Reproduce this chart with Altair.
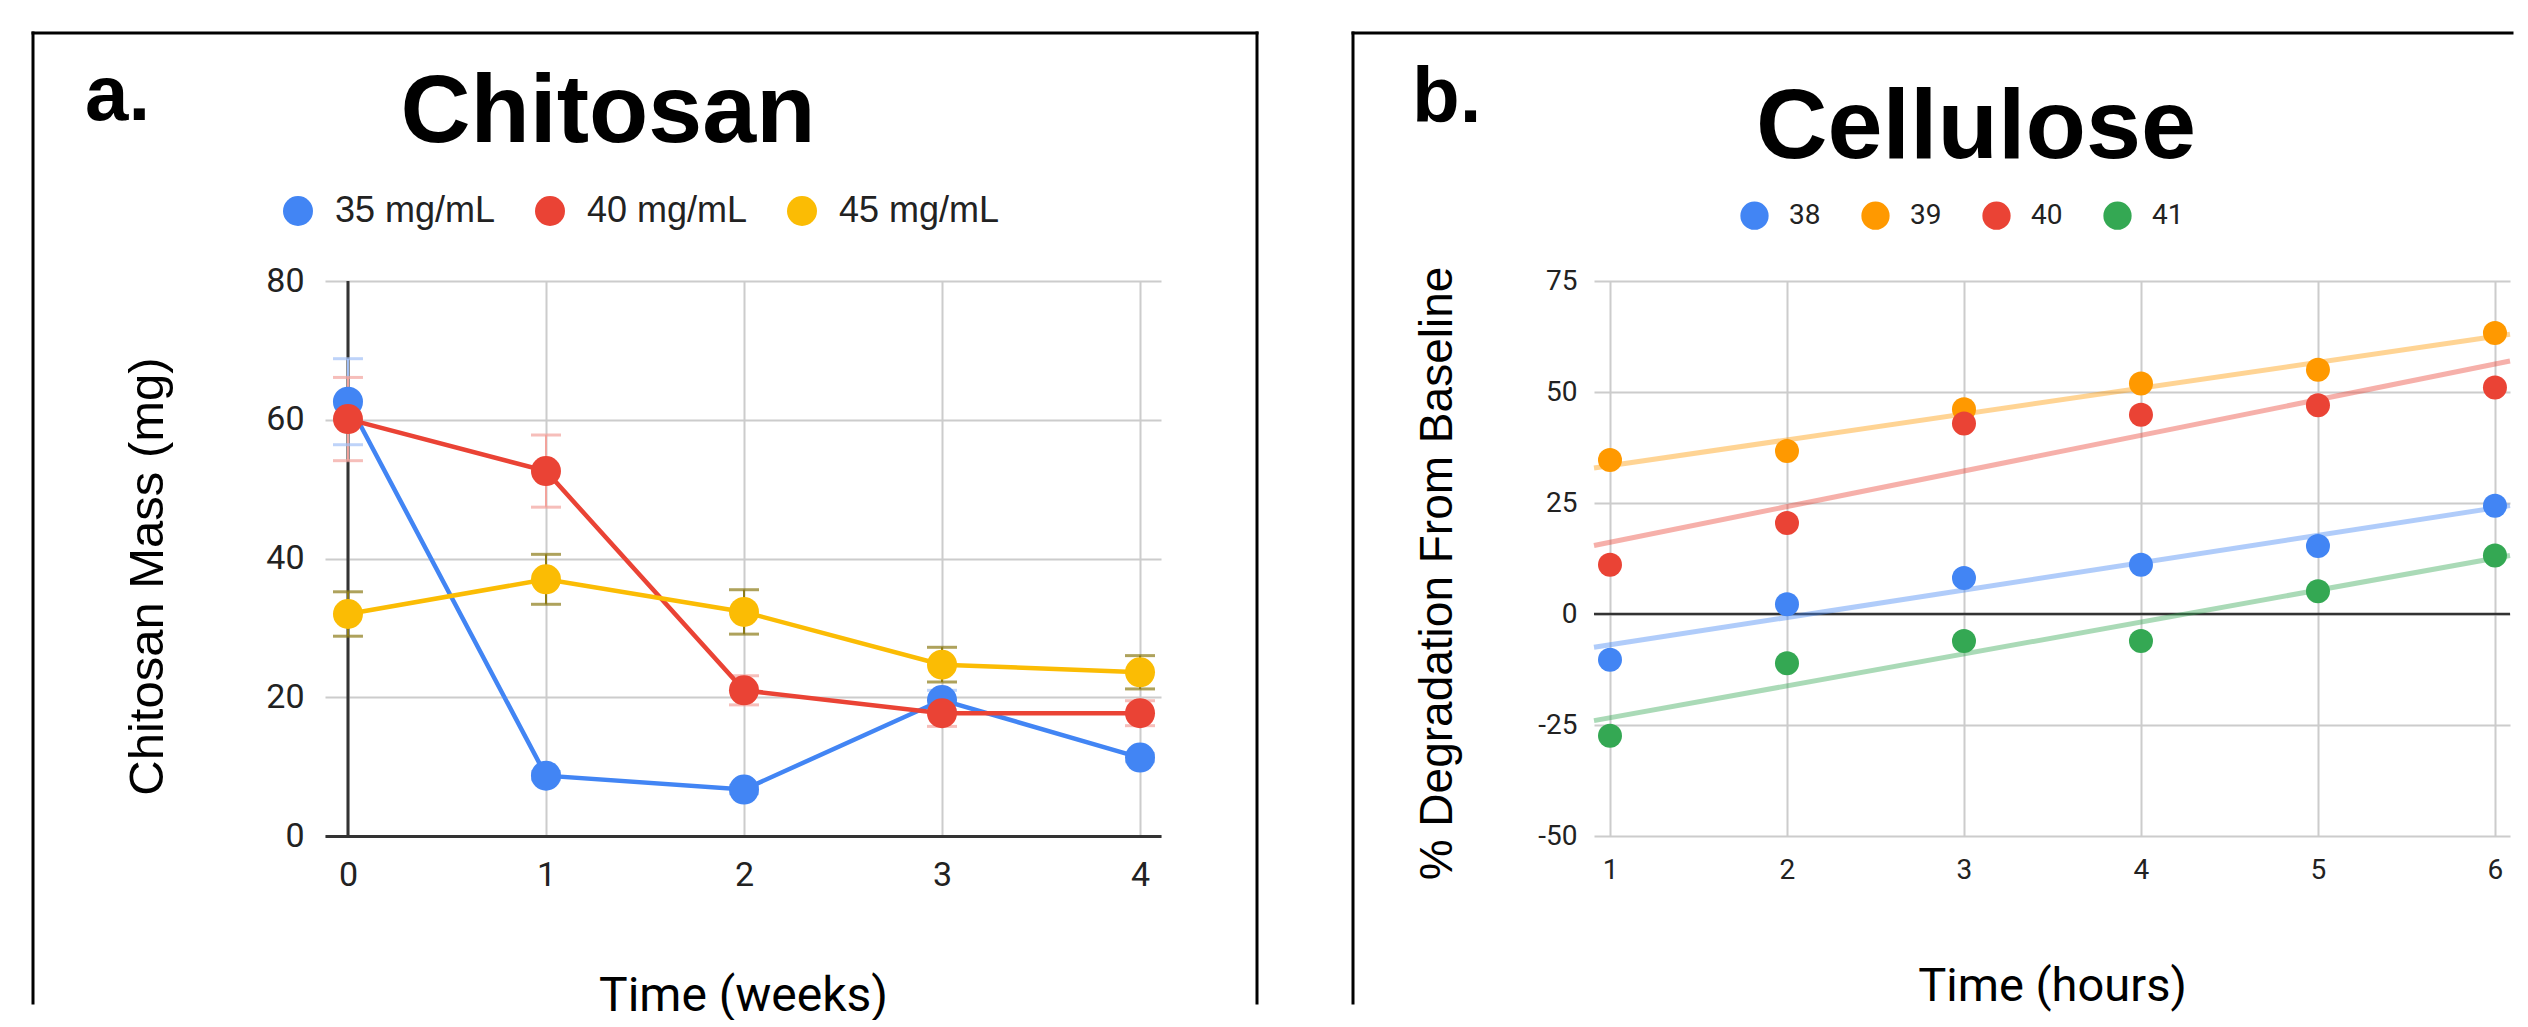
import altair as alt
import pandas as pd

# ---------------- data: panel a (Chitosan) ----------------
weeks = [0, 1, 2, 3, 4]
chitosan_series = ["35 mg/mL", "40 mg/mL", "45 mg/mL"]
mass_35 = [62.6, 8.7, 6.7, 19.6, 11.3]
mass_40 = [60.1, 52.6, 21.0, 17.7, 17.7]
mass_45 = [32.0, 37.0, 32.3, 24.7, 23.6]
err_35 = [6.2, 0.6, 0.6, 1.4, 0.6]
err_40 = [6.0, 5.2, 2.1, 1.9, 1.8]
err_45 = [3.2, 3.6, 3.2, 2.5, 2.4]

# ---------------- data: panel b (Cellulose) ----------------
hours = [1, 2, 3, 4, 5, 6]
cellulose_series = ["38", "39", "40", "41"]
deg_38 = [-10.3, 2.2, 8.1, 11.1, 15.3, 24.4]
deg_39 = [34.7, 36.7, 46.1, 51.9, 55.0, 63.3]
deg_40 = [11.1, 20.5, 42.9, 44.9, 47.0, 51.0]
deg_41 = [-27.4, -11.1, -6.1, -6.1, 5.1, 13.2]

colors_a = ["#4285F4", "#EA4335", "#FBBC04"]
err_colors_a = ["#A3C1F7", "#F2A39C", "#8C7B17"]
colors_b = ["#4285F4", "#FF9900", "#EA4335", "#34A853"]

rows_a = []
for s, ms, es in zip(chitosan_series, [mass_35, mass_40, mass_45], [err_35, err_40, err_45]):
    for w, m, e in zip(weeks, ms, es):
        rows_a.append({"week": w, "series": s, "mass": m, "lo": m - e, "hi": m + e})
df_a = pd.DataFrame(rows_a)

rows_b = []
for s, ds in zip(cellulose_series, [deg_38, deg_39, deg_40, deg_41]):
    for h, d in zip(hours, ds):
        rows_b.append({"hour": h, "series": s, "deg": d})
df_b = pd.DataFrame(rows_b)

one = alt.Data(values=[{"k": 1}])

GRID = "#cccccc"
LBL = "#222222"

# ---------------- panel a ----------------
A_W, A_H = 836, 555
xs_a = alt.Scale(domain=[-0.116, 4.106], nice=False, zero=False)
ys_a = alt.Scale(domain=[0, 80], nice=False)
ax_a_x = alt.Axis(values=weeks, format="d", title="Time (weeks)", grid=True, gridColor=GRID, gridWidth=2,
                  domain=True, domainColor="#333333", domainWidth=3, ticks=False,
                  labelFont="Roboto", labelFontSize=34, labelColor=LBL, labelPadding=22,
                  labelFlush=False, labelOverlap=False,
                  titleFont="Roboto", titleFontSize=48, titleFontWeight="normal", titleColor="#000000",
                  titleX=418, titleY=160, titleBaseline="middle", titleAlign="center")
ax_a_y = alt.Axis(values=[0, 20, 40, 60, 80], title="Chitosan Mass (mg)", grid=True, gridColor=GRID,
                  gridWidth=2, domain=False, ticks=False,
                  labelFont="Roboto", labelFontSize=34, labelColor=LBL, labelPadding=21,
                  labelFlush=False, labelOverlap=False,
                  titleFont="Liberation Sans", titleFontSize=49, titleFontWeight="normal",
                  titleColor="#000000", titleX=-178, titleY=295, titleBaseline="middle",
                  titleAlign="center", titleAngle=270)

def xa():
    return alt.X("week:Q", scale=xs_a, axis=ax_a_x)

def ya(f):
    return alt.Y(f"{f}:Q", scale=ys_a, axis=ax_a_y)

brd = dict(color="#000000", strokeWidth=3, strokeCap="square")
a_left = alt.Chart(one).mark_rule(**brd).encode(x=alt.value(-292), y=alt.value(-248), y2=alt.value(722))
a_top = alt.Chart(one).mark_rule(**brd).encode(x=alt.value(-292), x2=alt.value(932), y=alt.value(-248))
a_right = alt.Chart(one).mark_rule(**brd).encode(x=alt.value(932), y=alt.value(-248), y2=alt.value(722))

a_lab = alt.Chart(one).mark_text(text="a.", font="Liberation Sans", fontSize=78, fontWeight="bold",
                                 align="left", baseline="alphabetic", color="#000000").encode(
    x=alt.value(-240), y=alt.value(-161))
a_title = alt.Chart(one).mark_text(text="Chitosan", font="Liberation Sans", fontSize=97, fontWeight="bold",
                                   align="center", baseline="alphabetic", color="#000000").encode(
    x=alt.value(283), y=alt.value(-139))

a_zero = alt.Chart(one).mark_rule(color="#333333", strokeWidth=3).encode(x=alt.datum(0))

err_stroke = alt.Stroke("series:N", scale=alt.Scale(domain=chitosan_series, range=err_colors_a), legend=None)
err_fill = alt.Fill("series:N", scale=alt.Scale(domain=chitosan_series, range=err_colors_a), legend=None)

a_err = alt.Chart(df_a).mark_rule(strokeWidth=2).encode(x=xa(), y=ya("lo"), y2="hi:Q", stroke=err_stroke)
a_cap_lo = alt.Chart(df_a).mark_tick(orient="horizontal", size=30, thickness=3).encode(
    x=xa(), y=ya("lo"), fill=err_fill)
a_cap_hi = alt.Chart(df_a).mark_tick(orient="horizontal", size=30, thickness=3).encode(
    x=xa(), y=ya("hi"), fill=err_fill)

a_lines = alt.Chart(df_a).mark_line(strokeWidth=4.5).encode(
    x=xa(), y=ya("mass"),
    stroke=alt.Stroke("series:N", scale=alt.Scale(domain=chitosan_series, range=colors_a), legend=None))
a_pts = alt.Chart(df_a).mark_circle(size=900, opacity=1).encode(
    x=xa(), y=ya("mass"),
    color=alt.Color("series:N", scale=alt.Scale(domain=chitosan_series, range=colors_a),
                    legend=alt.Legend(orient="none", legendX=-45, legendY=-88, direction="horizontal",
                                      title=None, symbolType="circle", symbolSize=900,
                                      symbolStrokeWidth=0, symbolOpacity=1, labelLimit=0,
                                      labelFont="Liberation Sans", labelFontSize=36, labelColor=LBL,
                                      labelOffset=19, columnPadding=36)))

panel_a = alt.layer(a_left, a_top, a_right, a_lab, a_title, a_zero, a_err, a_cap_lo, a_cap_hi,
                    a_lines, a_pts).resolve_scale(stroke="independent", fill="independent").properties(
    width=A_W, height=A_H)

# ---------------- panel b ----------------
B_W, B_H = 916, 555
xs_b = alt.Scale(domain=[0.9096, 6.085], nice=False, zero=False)
ys_b = alt.Scale(domain=[-50, 75], nice=False)
ax_b_x = alt.Axis(values=hours, format="d", title="Time (hours)", grid=True, gridColor=GRID, gridWidth=2,
                  domain=False, ticks=False,
                  labelFont="Roboto", labelFontSize=28, labelColor=LBL, labelPadding=20,
                  labelFlush=False, labelOverlap=False,
                  titleFont="Roboto", titleFontSize=47, titleFontWeight="normal", titleColor="#000000",
                  titleX=458, titleY=150, titleBaseline="middle", titleAlign="center")
ax_b_y = alt.Axis(values=[-50, -25, 0, 25, 50, 75], title="% Degradation From Baseline", grid=True,
                  gridColor=GRID, gridWidth=2, domain=False, ticks=False,
                  labelExpr="'' + datum.value",
                  labelFont="Roboto", labelFontSize=28, labelColor=LBL, labelPadding=17,
                  labelFlush=False, labelOverlap=False,
                  titleFont="Liberation Sans", titleFontSize=46, titleFontWeight="normal",
                  titleColor="#000000", titleX=-157, titleY=292, titleBaseline="middle",
                  titleAlign="center", titleAngle=270)

xb = alt.X("hour:Q", scale=xs_b, axis=ax_b_x)
yb = alt.Y("deg:Q", scale=ys_b, axis=ax_b_y)

b_left = alt.Chart(one).mark_rule(**brd).encode(x=alt.value(-241), y=alt.value(-248), y2=alt.value(722))
b_top = alt.Chart(one).mark_rule(**brd).encode(x=alt.value(-241), x2=alt.value(918), y=alt.value(-248))

b_lab = alt.Chart(one).mark_text(text="b.", font="Liberation Sans", fontSize=78, fontWeight="bold",
                                 align="left", baseline="alphabetic", color="#000000").encode(
    x=alt.value(-182), y=alt.value(-159))
b_title = alt.Chart(one).mark_text(text="Cellulose", font="Liberation Sans", fontSize=99, fontWeight="bold",
                                   align="center", baseline="alphabetic", color="#000000").encode(
    x=alt.value(382), y=alt.value(-123))

b_zero = alt.Chart(one).mark_rule(color="#333333", strokeWidth=2.5).encode(y=alt.datum(0))

b_trend = alt.Chart(df_b).transform_regression(
    "hour", "deg", groupby=["series"], extent=[0.9096, 6.085]
).mark_line(strokeWidth=5, opacity=0.42).encode(
    x=xb, y=yb,
    stroke=alt.Stroke("series:N", scale=alt.Scale(domain=cellulose_series, range=colors_b), legend=None))

b_pts = alt.Chart(df_b).mark_circle(size=576, opacity=1).encode(
    x=xb, y=yb,
    color=alt.Color("series:N", scale=alt.Scale(domain=cellulose_series, range=colors_b),
                    legend=alt.Legend(orient="none", legendX=146, legendY=-80, direction="horizontal",
                                      title=None, symbolType="circle", symbolSize=800,
                                      symbolStrokeWidth=0, symbolOpacity=1, labelLimit=0,
                                      labelFont="Roboto", labelFontSize=28, labelColor=LBL,
                                      labelOffset=20, columnPadding=40)))

panel_b = alt.layer(b_left, b_top, b_lab, b_title, b_zero, b_trend, b_pts).properties(width=B_W, height=B_H)

chart = alt.hconcat(panel_a, panel_b, spacing=90).resolve_scale(color="independent").properties(
    padding={"left": 22, "top": 22, "right": 0, "bottom": 0},
    background="white",
).configure_view(stroke=None)

chart.save("out.html", embed_options={"renderer": "svg", "actions": False})
